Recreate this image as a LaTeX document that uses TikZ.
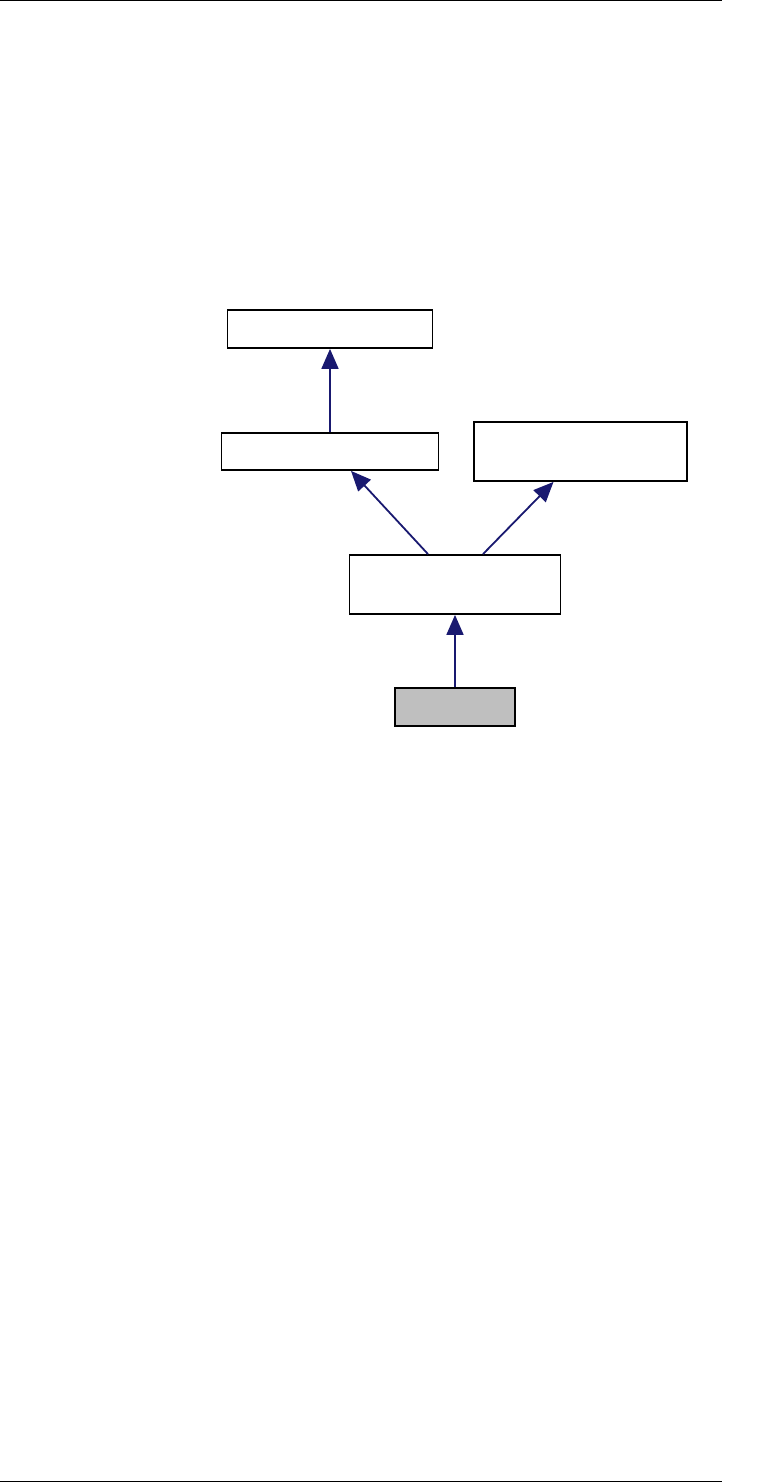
\documentclass[tikz,border=0pt]{standalone}
\usepackage{xcolor}
\usetikzlibrary{arrows.meta, positioning}

\definecolor{edgeblue}{RGB}{25,25,112}

\begin{document}
\begin{tikzpicture}[x=1pt, y=-1pt,
  cls/.style={draw=black, line width=1.8pt, fill=white, inner sep=0pt},
  self/.style={cls, fill=black!25},
  arrow/.style={{Triangle[length=20pt, width=17pt]}-, line width=1.8pt, edgeblue},
]
  \useasboundingbox (0,0) rectangle (769,1483);
  % page rules
  \draw[line width=1.2pt] (0,0.6) -- (722,0.6);
  \draw[line width=1.2pt] (0,1481.5) -- (722,1481.5);

  \node[cls, minimum width=205pt, minimum height=38pt] (base)  at (330,329) {};
  \node[cls, minimum width=217pt, minimum height=37pt] (mid)   at (330,451.5) {};
  \node[cls, minimum width=213pt, minimum height=59pt] (iface) at (580.5,451.5) {};
  \node[cls, minimum width=211pt, minimum height=59pt] (impl)  at (455,584.5) {};
  \node[self, minimum width=120pt, minimum height=38pt] (leaf) at (455,707) {};

  \draw[arrow] (base) -- (mid);
  \draw[arrow] ([xshift=21pt]mid.south) -- ([xshift=-27pt]impl.north);
  \draw[arrow] ([xshift=-27pt]iface.south) -- ([xshift=28pt]impl.north);
  \draw[arrow] (impl) -- (leaf);
\end{tikzpicture}
\end{document}
